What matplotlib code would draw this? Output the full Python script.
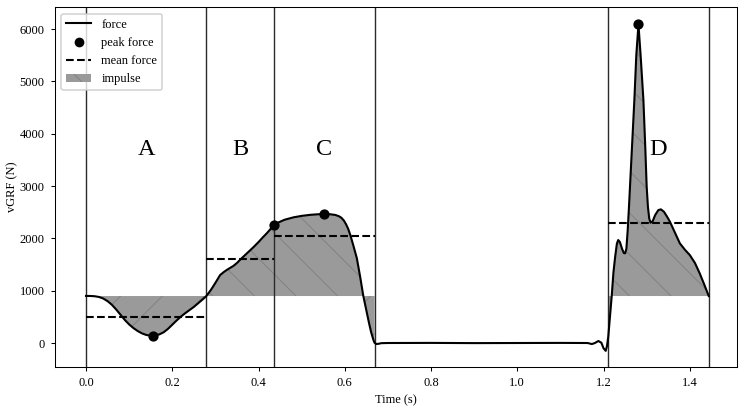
import numpy as np
import matplotlib
matplotlib.use('Agg')
import matplotlib.pyplot as plt
from matplotlib.lines import Line2D
from matplotlib.patches import Patch

# force trace (time in s, vGRF in N)
time = [0.000, 0.010, 0.020, 0.030, 0.040, 0.050, 0.060, 0.070, 0.080, 0.090,
        0.100, 0.110, 0.120, 0.130, 0.140, 0.150, 0.155, 0.160, 0.170, 0.180,
        0.190, 0.200, 0.210, 0.220, 0.230, 0.240, 0.250, 0.260, 0.270, 0.279,
        0.290, 0.300, 0.311, 0.320, 0.327, 0.335, 0.342, 0.350, 0.359, 0.370,
        0.380, 0.388, 0.400, 0.410, 0.419, 0.428, 0.436,
        0.445, 0.460, 0.481, 0.500, 0.520, 0.540, 0.551, 0.565, 0.578, 0.586,
        0.592, 0.598, 0.603, 0.608, 0.613, 0.620, 0.628, 0.636, 0.643, 0.650,
        0.656, 0.661, 0.6665, 0.669, 0.673, 0.678, 0.685, 0.700, 0.800, 0.900,
        1.000, 1.100, 1.163, 1.173, 1.180, 1.188, 1.195, 1.200, 1.205, 1.208,
        1.211, 1.215, 1.219, 1.223, 1.227, 1.231, 1.234, 1.238, 1.243, 1.247,
        1.250, 1.253, 1.256, 1.259, 1.262, 1.266, 1.2715, 1.276, 1.281, 1.286,
        1.2925, 1.297, 1.300, 1.303, 1.306, 1.309, 1.314, 1.320, 1.327, 1.333,
        1.340, 1.347, 1.354, 1.365, 1.377, 1.389, 1.400, 1.412, 1.423, 1.433,
        1.444]
force = [900, 899, 894, 880, 850, 800, 730, 640, 540, 440,
         355, 285, 228, 183, 153, 141, 140, 143, 165, 205,
         270, 350, 430, 505, 570, 630, 690, 760, 830, 898,
         1020, 1150, 1300, 1360, 1400, 1440, 1475, 1530, 1605, 1690,
         1770, 1830, 1930, 2020, 2096, 2180, 2255,
         2300, 2355, 2402, 2430, 2450, 2462, 2465, 2462, 2448, 2425,
         2395, 2340, 2270, 2180, 2060, 1860, 1620, 1250, 898, 620,
         390, 210, 57, 5, -20, -15, -3, 0, 2, -2,
         0, 2, 0, -20, 0, 38, 5, -100, -150, -60,
         120, 500, 898, 1350, 1650, 1900, 1968, 1930, 1800, 1720,
         1714, 1800, 2150, 2600, 3100, 3800, 4644, 5500, 6090, 5500,
         4644, 3700, 3000, 2600, 2380, 2300, 2330, 2450, 2540, 2555,
         2510, 2420, 2318, 2120, 1905, 1780, 1682, 1530, 1332, 1130,
         898]

bodyweight = 898
phase_edges = [0.0, 0.279, 0.436, 0.669, 1.211, 1.444]
phase_names = ['A', 'B', 'C', 'D']
phase_start = [0.0, 0.279, 0.436, 1.211]
phase_end = [0.279, 0.436, 0.669, 1.444]
mean_force = [503, 1605, 2050, 2300]
peak_time = [0.155, 0.436, 0.551, 1.281]
peak_force = [140, 2255, 2465, 6090]

plt.rcParams['font.family'] = ['Liberation Serif', 'DejaVu Serif']
plt.rcParams['hatch.linewidth'] = 0.6

fig = plt.figure(figsize=(5.984, 3.288), dpi=125)
ax = fig.add_axes([0.0735, 0.107, 0.9115, 0.875])

t = np.array(time)
f = np.array(force)

# impulse areas (relative to bodyweight)
in_phase = np.zeros(len(t), dtype=bool)
for a, b in zip(phase_start, phase_end):
    in_phase |= (t >= a - 1e-9) & (t <= b + 1e-9)
ax.fill_between(t, f, bodyweight, where=in_phase & (f >= bodyweight), interpolate=True,
                facecolor='#9a9a9a', edgecolor='#838383', linewidth=0, hatch='\\')
ax.fill_between(t, f, bodyweight, where=in_phase & (f <= bodyweight), interpolate=True,
                facecolor='#9a9a9a', edgecolor='#838383', linewidth=0, hatch='/')

for x in phase_edges:
    ax.axvline(x, color='#2a2a2a', linewidth=0.8)

ax.plot(t, f, color='black', linewidth=1.2, zorder=4)

for a, b, m in zip(phase_start, phase_end, mean_force):
    ax.plot([a, b], [m, m], color='black', linestyle='--', linewidth=1.2, zorder=4)

ax.scatter(peak_time, peak_force, s=24, color='black', zorder=5)

for a, b, name in zip(phase_start, phase_end, phase_names):
    ax.text((a + b) / 2, 3700, name, fontsize=14, ha='center', va='center')

ax.set_xlim(-0.072, 1.509)
ax.set_ylim(-459, 6415)
ax.set_xticks([0.0, 0.2, 0.4, 0.6, 0.8, 1.0, 1.2, 1.4])
ax.set_yticks([0, 1000, 2000, 3000, 4000, 5000, 6000])
ax.tick_params(labelsize=7.2, length=2.5, width=0.6)
for s in ax.spines.values():
    s.set_linewidth(0.6)
ax.set_xlabel('Time (s)', fontsize=7.2, labelpad=3)
ax.set_ylabel('vGRF (N)', fontsize=7.2, labelpad=1)

handles = [Line2D([], [], color='black', linewidth=1.2),
           Line2D([], [], color='black', marker='o', linestyle='none', markersize=4.6),
           Line2D([], [], color='black', linestyle='--', linewidth=1.2),
           Patch(facecolor='#9a9a9a', edgecolor='#838383', linewidth=0, hatch='\\')]
ax.legend(handles, ['force', 'peak force', 'mean force', 'impulse'],
          loc='upper left', fontsize=7.2)

fig.savefig('out.png', dpi=125)
